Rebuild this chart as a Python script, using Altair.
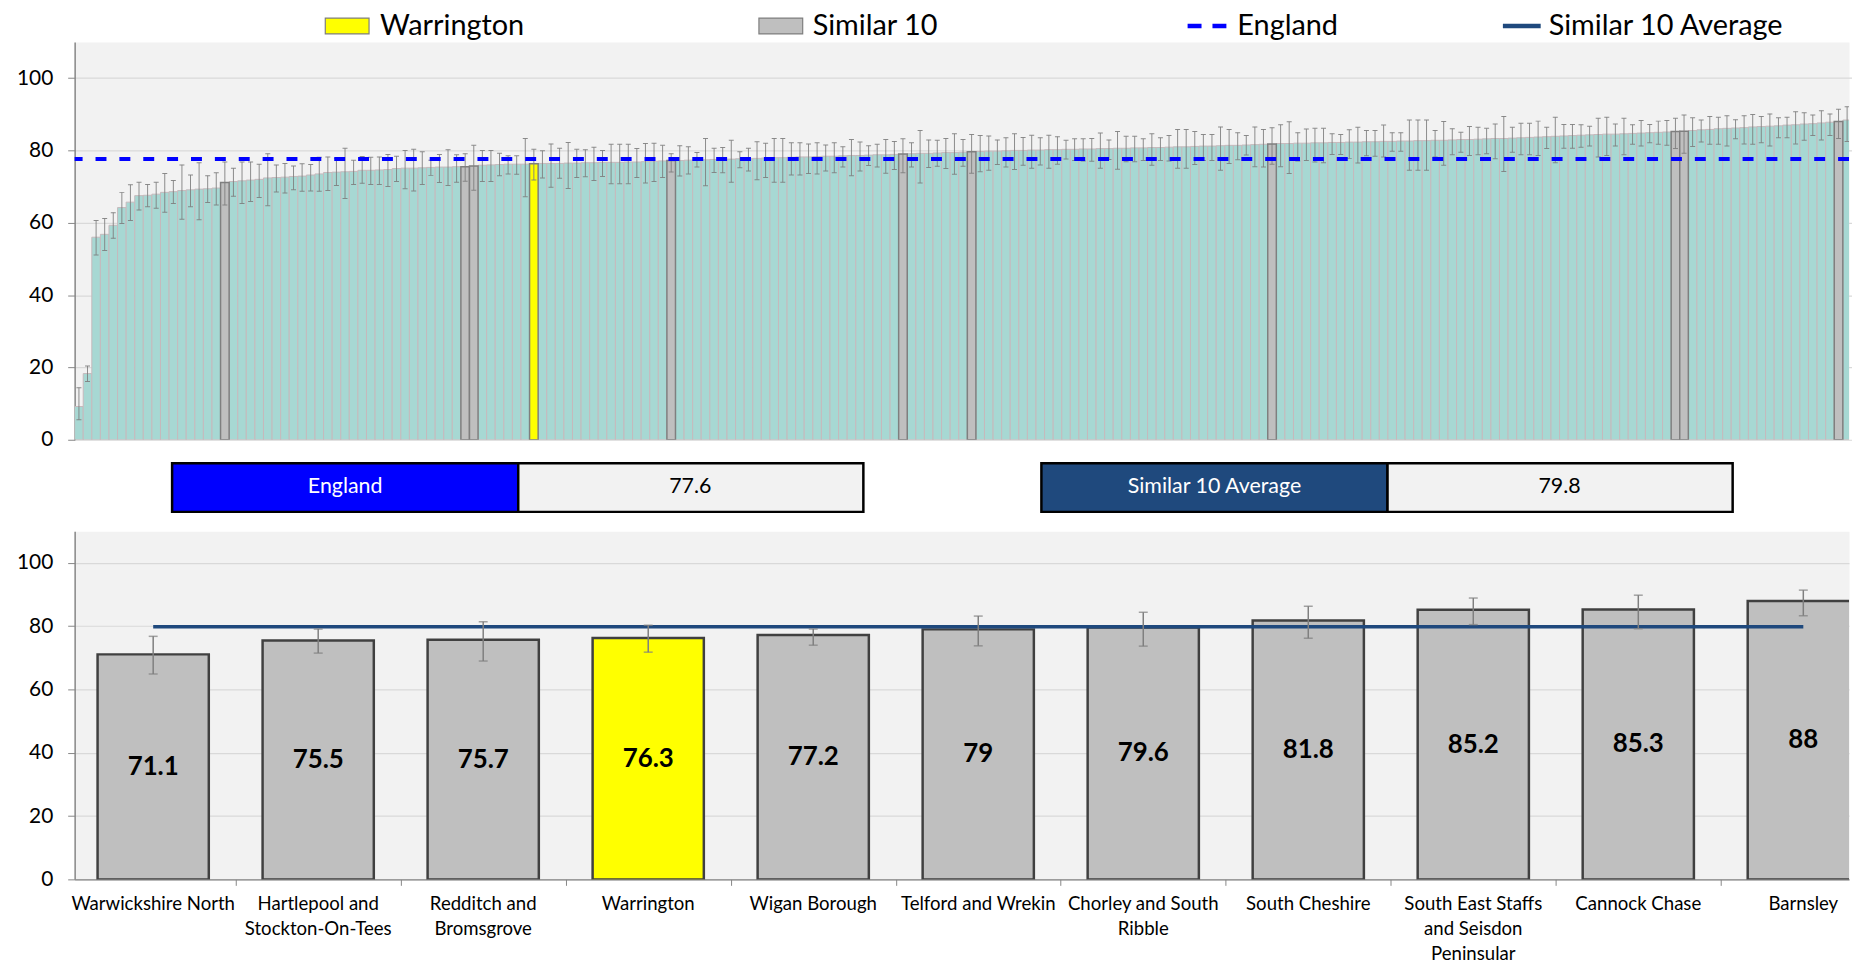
import textwrap
import altair as alt
import pandas as pd

FONT = "Lato"

# ---------------- data ----------------
ccg_values = [
    9.2, 18.3, 56.0, 56.8, 59.3, 64.2, 65.7, 67.5, 67.6, 67.9,
    68.4, 68.6, 68.9, 69.1, 69.3, 69.4, 69.6, 71.1, 71.4, 71.6,
    71.8, 72.0, 72.4, 72.5, 72.6, 72.8, 72.9, 73.2, 73.5, 73.9,
    74.0, 74.1, 74.2, 74.5, 74.5, 74.6, 74.7, 75.0, 75.1, 75.1,
    75.2, 75.3, 75.4, 75.4, 75.5, 75.5, 75.7, 75.9, 76.0, 76.1,
    76.2, 76.2, 76.2, 76.3, 76.4, 76.4, 76.4, 76.5, 76.5, 76.6,
    76.6, 76.7, 76.7, 76.7, 76.8, 76.8, 76.9, 77.0, 77.1, 77.2,
    77.2, 77.3, 77.4, 77.4, 77.5, 77.5, 77.6, 77.7, 77.7, 77.8,
    77.9, 78.0, 78.0, 78.1, 78.2, 78.2, 78.3, 78.4, 78.4, 78.5,
    78.6, 78.6, 78.7, 78.8, 78.8, 78.9, 79.0, 79.1, 79.2, 79.2,
    79.3, 79.4, 79.4, 79.5, 79.6, 79.7, 79.8, 79.8, 79.9, 80.0,
    80.0, 80.1, 80.1, 80.2, 80.2, 80.3, 80.3, 80.4, 80.4, 80.5,
    80.5, 80.6, 80.6, 80.7, 80.7, 80.8, 80.8, 80.9, 81.0, 81.0,
    81.1, 81.2, 81.2, 81.3, 81.4, 81.4, 81.5, 81.6, 81.7, 81.8,
    81.9, 81.9, 82.0, 82.0, 82.1, 82.1, 82.2, 82.2, 82.3, 82.3,
    82.4, 82.4, 82.5, 82.5, 82.6, 82.6, 82.7, 82.7, 82.8, 82.8,
    82.9, 83.0, 83.0, 83.1, 83.2, 83.3, 83.3, 83.4, 83.5, 83.6,
    83.7, 83.8, 83.9, 84.0, 84.1, 84.2, 84.3, 84.4, 84.5, 84.5,
    84.6, 84.7, 84.8, 84.9, 85.0, 85.1, 85.2, 85.3, 85.5, 85.7,
    85.8, 86.0, 86.1, 86.2, 86.3, 86.5, 86.6, 86.7, 86.8, 87.0,
    87.1, 87.3, 87.4, 87.6, 87.8, 88.0, 88.4, 88.8,
]
ccg_lower = [
    5.5, 16.1, 51.1, 52.3, 55.7, 59.8, 60.6, 63.5, 64.4, 64.0,
    62.9, 65.3, 61.0, 64.4, 60.8, 65.6, 64.9, 64.9, 67.3, 65.3,
    65.9, 67.0, 64.7, 68.5, 68.2, 69.1, 68.7, 68.8, 68.7, 68.9,
    70.3, 66.7, 70.6, 70.9, 70.6, 70.6, 70.0, 71.4, 69.4, 68.8,
    70.6, 73.1, 71.1, 70.3, 71.2, 71.5, 69.0, 71.4, 71.4, 73.0,
    73.5, 73.4, 67.2, 71.8, 72.4, 69.8, 72.3, 69.5, 72.5, 72.7,
    71.7, 72.8, 70.8, 70.8, 70.8, 72.5, 71.0, 71.4, 72.5, 74.0,
    72.9, 73.5, 75.4, 70.2, 73.9, 73.8, 71.2, 75.2, 74.3, 71.9,
    72.5, 71.2, 71.2, 73.2, 73.2, 73.6, 73.5, 74.3, 73.8, 75.4,
    73.0, 74.3, 75.8, 75.4, 73.7, 74.7, 73.8, 75.4, 71.0, 75.3,
    75.6, 75.0, 73.4, 75.6, 73.7, 74.1, 74.5, 76.1, 75.4, 74.7,
    75.9, 75.1, 76.0, 75.1, 76.2, 77.6, 77.2, 77.1, 77.0, 75.1,
    77.5, 74.8, 76.9, 76.9, 77.2, 75.9, 77.2, 77.1, 75.1, 75.1,
    76.1, 77.2, 77.2, 74.5, 76.4, 77.4, 78.7, 75.5, 75.4, 76.2,
    75.5, 73.6, 77.1, 77.2, 76.8, 76.6, 78.9, 78.9, 77.8, 76.5,
    78.5, 78.4, 78.2, 79.8, 79.8, 74.5, 74.5, 74.5, 78.2, 75.9,
    78.8, 79.5, 78.6, 78.8, 79.1, 77.7, 74.2, 79.5, 78.8, 78.8,
    78.6, 80.5, 76.6, 80.6, 80.6, 80.9, 81.2, 78.2, 78.6, 81.2,
    78.8, 81.7, 81.2, 82.1, 81.7, 81.4, 80.5, 79.2, 81.1, 82.3,
    81.7, 81.7, 81.2, 83.2, 81.8, 81.7, 82.1, 81.2, 83.5, 83.5,
    81.8, 82.8, 84.1, 82.9, 84.1, 83.3, 82.5, 84.3,
]
ccg_upper = [
    14.4, 20.4, 60.6, 61.2, 62.8, 68.4, 70.5, 71.2, 70.6, 71.2,
    73.6, 71.7, 76.0, 73.2, 76.6, 73.0, 73.8, 76.8, 75.1, 76.8,
    76.8, 76.2, 79.1, 76.0, 76.4, 75.7, 76.3, 76.1, 78.1, 78.2,
    77.8, 80.6, 77.3, 78.3, 78.1, 78.2, 78.9, 78.4, 80.0, 80.3,
    79.6, 77.3, 78.9, 80.2, 78.8, 79.1, 81.4, 80.0, 80.0, 79.2,
    78.5, 78.5, 83.3, 80.3, 79.9, 81.8, 80.6, 82.2, 80.3, 80.2,
    80.9, 80.0, 81.7, 81.7, 81.7, 80.5, 81.9, 82.0, 81.4, 79.1,
    81.3, 81.0, 79.4, 83.3, 80.6, 80.8, 82.8, 79.6, 80.6, 82.4,
    82.0, 83.3, 83.3, 82.1, 82.1, 81.8, 82.1, 81.5, 82.1, 81.0,
    83.0, 82.3, 81.3, 81.7, 83.0, 82.5, 83.2, 82.1, 85.5, 82.9,
    82.8, 83.3, 84.6, 83.0, 84.4, 84.1, 84.0, 82.9, 83.5, 84.6,
    83.6, 84.2, 83.5, 84.2, 83.8, 82.8, 83.2, 83.2, 83.3, 84.8,
    82.9, 85.2, 83.9, 83.9, 83.2, 84.6, 83.5, 84.1, 85.8, 85.8,
    85.2, 84.4, 84.4, 86.5, 85.8, 84.9, 84.1, 86.5, 85.8, 86.3,
    87.1, 87.9, 84.9, 85.9, 86.1, 86.1, 84.6, 84.4, 85.7, 86.4,
    85.5, 85.5, 87.0, 84.9, 84.9, 88.4, 88.4, 88.4, 85.5, 88.0,
    86.0, 85.0, 86.6, 86.4, 86.1, 87.3, 89.4, 86.4, 87.5, 87.5,
    88.1, 86.4, 89.2, 87.2, 87.2, 87.1, 86.7, 88.9, 89.2, 87.3,
    88.9, 87.1, 88.3, 87.2, 88.1, 88.3, 88.9, 89.8, 89.0, 88.4,
    89.4, 89.2, 89.6, 88.5, 89.6, 89.9, 89.4, 90.1, 89.0, 89.2,
    90.7, 90.4, 89.8, 91.0, 90.1, 91.4, 92.1, 91.9,
]

similar_idx = [17, 45, 46, 53, 69, 96, 104, 139, 186, 187, 205]
highlight_idx = 53
similar_names = [
    "Warwickshire North", "Hartlepool and Stockton-On-Tees", "Redditch and Bromsgrove",
    "Warrington", "Wigan Borough", "Telford and Wrekin", "Chorley and South Ribble",
    "South Cheshire", "South East Staffs and Seisdon Peninsular", "Cannock Chase", "Barnsley",
]
england_label = "England"
england_value = 77.6
similar_avg_label = "Similar 10 Average"
similar_avg_value = 79.8
legend_labels = ["Warrington", "Similar 10", "England", "Similar 10 Average"]

# ---------------- styles ----------------
TEAL = "#A7D8D3"
SEP = "#C6B9BC"
GREY_TOP = "#BFBFBF"
GREY_BOT = "#C8C8C8"
YELLOW = "#FFFF00"
BLUE = "#0000FF"
NAVY = "#1F497D"
ERR = "#808080"

W = 1784
H_TOP = 400
H_BOT = 350
BAND_PX = 8.63

# ---------------- top panel ----------------
n = len(ccg_values)
groups = []
for i in range(n):
    if i == highlight_idx:
        groups.append("Warrington")
    elif i in similar_idx:
        groups.append("Similar 10")
    else:
        groups.append("CCG")
df_top = pd.DataFrame({"i": list(range(n)), "value": ccg_values, "lo": ccg_lower,
                       "hi": ccg_upper, "group": groups})

y_axis = alt.Axis(values=[0, 20, 40, 60, 80, 100], title=None, labelFont=FONT,
                  labelFontSize=21, labelColor="#000000", tickColor="#868686", tickSize=7,
                  labelPadding=15, domainColor="#868686", domainWidth=1.5,
                  gridColor="#D9D9D9", gridWidth=1.2)
y_scale = alt.Scale(domain=[0, 110], nice=False)
x_top = alt.X("i:O", scale=alt.Scale(domain=list(range(n)), range=[0, n * BAND_PX],
                                     paddingInner=0, paddingOuter=0), axis=None)

base_top = alt.Chart(df_top)
teal_bars = base_top.transform_filter("datum.group == 'CCG'").mark_bar(
    fill=TEAL, stroke=SEP, strokeWidth=1, clip=True).encode(
    x=x_top, y=alt.Y("value:Q", scale=y_scale, axis=y_axis))
hl_bars = base_top.transform_filter("datum.group != 'CCG'").mark_bar(
    stroke="#7F7F7F", strokeWidth=1.5, clip=True).encode(
    x=x_top, y=alt.Y("value:Q"),
    fill=alt.Fill("group:N", scale=alt.Scale(domain=["Similar 10", "Warrington"],
                                             range=[GREY_TOP, YELLOW]), legend=None))
top_err = base_top.mark_rule(color=ERR, strokeWidth=1, opacity=0.9, clip=True).encode(
    x=x_top, y="lo:Q", y2="hi:Q")
top_caps = base_top.transform_fold(["lo", "hi"], as_=["k", "v"]).mark_tick(
    color=ERR, thickness=1, size=5, orient="horizontal", opacity=0.9, clip=True).encode(
    x=x_top, y="v:Q")
eng_line = alt.Chart(pd.DataFrame({"v": [england_value]})).mark_rule(
    color=BLUE, strokeWidth=4, strokeDash=[11, 13]).encode(y="v:Q")

LEG_Y = -16
def leg_text(label, x):
    return alt.Chart(pd.DataFrame({"t": [label]})).mark_text(
        font=FONT, fontSize=29, align="left", baseline="middle", color="#000000").encode(
        text="t:N", x=alt.value(x), y=alt.value(LEG_Y))

def leg_box(fill, x0, x1):
    return alt.Chart(pd.DataFrame({"t": [0]})).mark_rect(
        fill=fill, stroke="#7F7F7F", strokeWidth=1.2).encode(
        x=alt.value(x0), x2=alt.value(x1), y=alt.value(LEG_Y - 8), y2=alt.value(LEG_Y + 8))

def leg_line(color, x0, x1, dash=None):
    kw = dict(color=color, strokeWidth=4.5)
    if dash:
        kw["strokeDash"] = dash
    return alt.Chart(pd.DataFrame({"t": [0]})).mark_rule(**kw).encode(
        x=alt.value(x0), x2=alt.value(x1), y=alt.value(LEG_Y))

legend_layers = [
    leg_box(YELLOW, 252, 296), leg_text(legend_labels[0], 307),
    leg_box(GREY_TOP, 688, 732), leg_text(legend_labels[1], 742),
    leg_line(BLUE, 1119, 1160, [14, 11]), leg_text(legend_labels[2], 1169),
    leg_line(NAVY, 1436, 1474), leg_text(legend_labels[3], 1482),
]

top = alt.layer(teal_bars, hl_bars, top_err, top_caps, eng_line, *legend_layers).properties(
    width=W, height=H_TOP, view=alt.ViewBackground(fill="#F2F2F2", stroke="transparent"))

# ---------------- info boxes ----------------
BOX_TOP = 3.5
BOX_H = 49
info_layers = []
for label, val, fill, x0 in [(england_label, england_value, BLUE, 98),
                             (similar_avg_label, similar_avg_value, NAVY, 972)]:
    d = pd.DataFrame({"label": [label], "value": [val]})
    c = alt.Chart(d)
    info_layers += [
        c.mark_rect(fill=fill, stroke="#000000", strokeWidth=2.5).encode(
            x=alt.value(x0), x2=alt.value(x0 + 348),
            y=alt.value(BOX_TOP), y2=alt.value(BOX_TOP + BOX_H)),
        c.mark_rect(fill="#F2F2F2", stroke="#000000", strokeWidth=2.5).encode(
            x=alt.value(x0 + 348), x2=alt.value(x0 + 695),
            y=alt.value(BOX_TOP), y2=alt.value(BOX_TOP + BOX_H)),
        c.mark_text(font=FONT, fontSize=21.5, color="#FFFFFF", baseline="middle").encode(
            text="label:N", x=alt.value(x0 + 174), y=alt.value(BOX_TOP + BOX_H / 2)),
        c.mark_text(font=FONT, fontSize=21.5, color="#000000", baseline="middle").encode(
            text=alt.Text("value:Q", format=".1f"), x=alt.value(x0 + 521),
            y=alt.value(BOX_TOP + BOX_H / 2)),
    ]
info = alt.layer(*info_layers).properties(
    width=W, height=62.5, view=alt.ViewBackground(fill="transparent", stroke="transparent"))

# ---------------- bottom panel ----------------
sim_values = [ccg_values[i] for i in similar_idx]
sim_lower = [ccg_lower[i] for i in similar_idx]
sim_upper = [ccg_upper[i] for i in similar_idx]
sim_group = ["Warrington" if i == highlight_idx else "Similar 10" for i in similar_idx]
sim_labels = ["\n".join(textwrap.wrap(s, 18)) for s in similar_names]
df_sim = pd.DataFrame({"k": list(range(len(similar_idx))), "value": sim_values,
                       "lo": sim_lower, "hi": sim_upper, "group": sim_group,
                       "label": sim_labels})

x_scale_b = alt.Scale(domain=[-0.476, 10.277], nice=False, zero=False)
x_axis_b = alt.Axis(values=[k + 0.5 for k in range(10)], labels=False, ticks=True, tickSize=6,
                    tickColor="#868686", domainColor="#868686", domainWidth=1.5,
                    grid=False, title=None)
base_b = alt.Chart(df_sim)
bot_bars = base_b.transform_calculate(x0="datum.k - 0.337", x1="datum.k + 0.337").mark_rect(
    clip=True, stroke="#404040", strokeWidth=2.5).encode(
    x=alt.X("x0:Q", scale=x_scale_b, axis=x_axis_b), x2="x1:Q",
    y=alt.Y("value:Q", scale=y_scale, axis=y_axis), y2=alt.datum(0),
    fill=alt.Fill("group:N", scale=alt.Scale(domain=["Similar 10", "Warrington"],
                                             range=[GREY_BOT, YELLOW]), legend=None))
avg_line = alt.Chart(pd.DataFrame({"a": [0], "b": [len(similar_idx) - 1],
                                   "v": [similar_avg_value]})).mark_rule(
    color=NAVY, strokeWidth=3.5).encode(x="a:Q", x2="b:Q", y="v:Q")
bot_err = base_b.mark_rule(color="#7F7F7F", strokeWidth=1.5).encode(
    x="k:Q", y="lo:Q", y2="hi:Q")
bot_caps = base_b.transform_fold(["lo", "hi"], as_=["kk", "v"]).mark_tick(
    color="#7F7F7F", thickness=1.5, size=9, orient="horizontal").encode(x="k:Q", y="v:Q")
bot_vals = base_b.transform_calculate(mid="datum.value / 2").mark_text(
    font=FONT, fontSize=26, fontWeight="bold", color="#000000", baseline="middle").encode(
    x="k:Q", y="mid:Q", text=alt.Text("value:Q", format=".1~f"))
bot_labels = base_b.mark_text(font=FONT, fontSize=18.7, color="#000000", baseline="top",
                              align="center", lineBreak="\n", lineHeight=25).encode(
    x="k:Q", y=alt.value(H_BOT + 16), text="label:N")

bottom = alt.layer(bot_bars, avg_line, bot_err, bot_caps, bot_vals, bot_labels).properties(
    width=W, height=H_BOT, view=alt.ViewBackground(fill="#F2F2F2", stroke="transparent"))

chart = alt.vconcat(top, info, bottom, spacing=8).properties(
    padding={"left": 7, "top": 0.5, "right": 0, "bottom": 0}
).configure_view(stroke="transparent", strokeWidth=0).configure(background="#FFFFFF")

chart.save("out.html", embed_options={"renderer": "svg", "actions": False})
